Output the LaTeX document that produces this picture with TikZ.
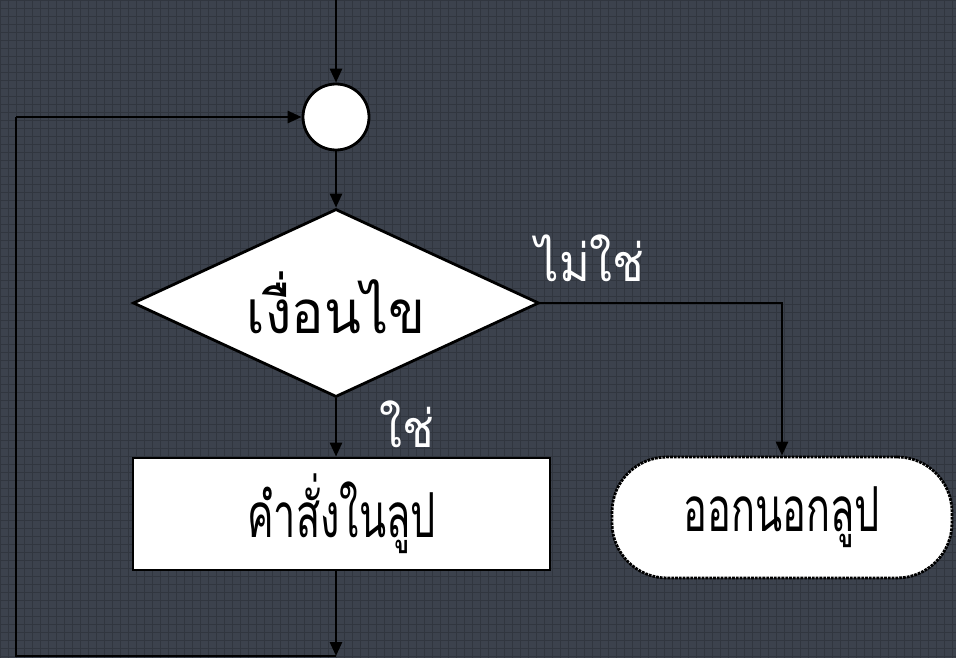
\documentclass[tikz,border=0pt]{standalone}
\usepackage{fontspec}
\newfontfamily\thaifont[Script=Thai,FakeStretch=0.9]{Loma}
\newfontfamily\thainarrow[Script=Thai,FakeStretch=0.64]{Loma}
\usetikzlibrary{shapes.geometric,arrows.meta}
\definecolor{bgc}{HTML}{3C424D}
\definecolor{gridc}{HTML}{31363F}
\tikzset{
  conn/.style={line width=2.8pt,-{Triangle[length=14pt,width=12pt]}},
  plain/.style={line width=2.4pt},
  shapebox/.style={draw=black,fill=white,line width=2.8pt,inner sep=0pt,font=\thaifont\fontsize{60}{66}\selectfont},
  narrowtext/.style={font=\thainarrow\fontsize{62}{68}\selectfont},
  lbl/.style={text=white,font=\thaifont\fontsize{52}{58}\selectfont,inner sep=0pt}
}
\begin{document}
\begin{tikzpicture}[x=1pt,y=-1pt]
\useasboundingbox (0,0) rectangle (956,658);
\fill[bgc] (0,0) rectangle (956,658);
\draw[gridc,line width=0.9pt,step=8pt] (0,0) grid (956,658);
\node[shapebox,circle,minimum size=66pt] (circ) at (336,117) {};
\node[shapebox,diamond,aspect=2.16,minimum width=406pt,minimum height=188pt] (cond) at (336,303) {เงื่อนไข};
\node[shapebox,narrowtext,rectangle,minimum width=417pt,minimum height=112pt] (proc) at (341.5,514) {คำสั่งในลูป};
\node[shapebox,narrowtext,rectangle,rounded corners=55pt,draw=black,densely dotted,minimum width=340pt,minimum height=121pt] (term) at (782,517.5) {ออกนอกลูป};
\node[lbl] (no) at (590,258) {ไม่ใช่};
\node[lbl] (yes) at (407,424) {ใช่};
\coordinate (top) at (336,0);
\coordinate (ret) at (336,656);
\coordinate (lc) at (16,656);
\coordinate (lt) at (16,117);
\draw[conn] (top) -- (circ);
\draw[conn] (circ) -- (cond);
\draw[conn] (cond.east) -| (term.north);
\draw[conn] (cond.south) -- (cond.south |- proc.north);
\draw[conn] (proc.south -| ret) -- (ret);
\draw[plain] (ret) -- (lc) -- (lt);
\draw[conn] (lt) -- (circ.west);
\end{tikzpicture}
\end{document}
